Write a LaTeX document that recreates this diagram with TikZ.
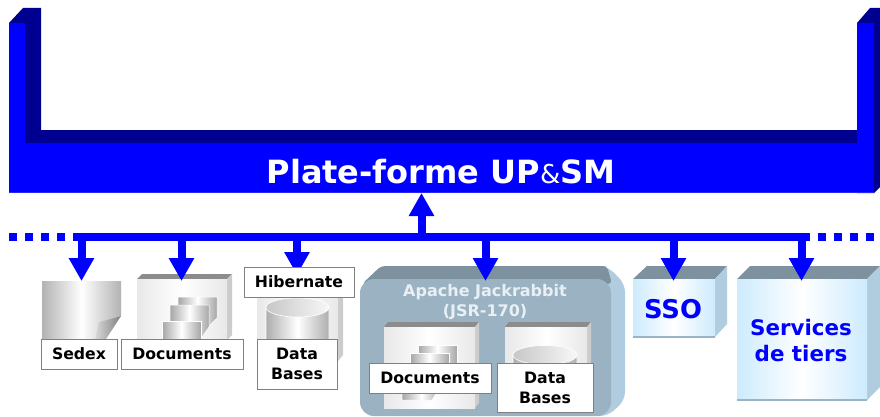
\documentclass[tikz,border=0pt]{standalone}
\usepackage{fontspec}
\setmainfont{DejaVu Sans}
\usetikzlibrary{arrows.meta}
\definecolor{navy}{RGB}{0,0,144}
\definecolor{topf}{RGB}{125,145,158}
\definecolor{sidef}{RGB}{176,205,224}
\definecolor{frontf}{RGB}{155,178,194}
\definecolor{skyf}{RGB}{205,235,253}
\begin{document}
\begin{tikzpicture}[x=1pt,y=-1pt,
  lbl/.style={draw=black!50,line width=1pt,fill=white,font=\bfseries\fontsize{15.7}{20}\selectfont,align=center,inner sep=0pt,text=black},
  barrow/.style={draw=blue,line width=8pt,-{Triangle[length=23pt,width=24pt,fill=blue]}},
  sil/.style={left color=black!30,right color=black!30,middle color=white,draw=none},
  pale/.style={left color=black!9,right color=black!9,middle color=white,draw=none},
  sky/.style={left color=skyf,right color=skyf,middle color=white,draw=none},
  cyl/.style={draw=white,line width=.6pt,left color=black!32,right color=black!32,middle color=white},
  lid/.style={draw=white,line width=.6pt,left color=black!22,right color=black!3},
  page/.style={draw=white,line width=.5pt,left color=black!35,right color=black!35,middle color=white}
]
\useasboundingbox (0,0) rectangle (880,417);
% platform
\fill[navy] (9,23) -- (23,8) -- (41,8) -- (41,130) -- (25,130) -- (25,143) -- (9,143) -- cycle;
\fill[navy] (857,23) -- (870,8) -- (880,8) -- (880,187) -- (874,193) -- (857,193) -- cycle;
\fill[blue] (9,23) rectangle (25,143);
\fill[blue] (857,23) rectangle (874,143);
\fill[blue] (9,143) rectangle (874,193);
\fill[navy] (25,130) rectangle (857,143);
\fill[blue!85!white] (9,192) rectangle (874,193);
\node[text=white,font=\bfseries\fontsize{32}{36}\selectfont] (title) at (441,172) {Plate-forme UP{\fontsize{26}{30}\selectfont\mdseries\&}SM};
% bus
\foreach \x in {9,25,41,57,818,834,850,866}{\fill[blue] (\x,233) rectangle (\x+8,241);}
\fill[blue] (73,233) rectangle (810,241);
% sedex
\path[sil] (42,281) -- (121,281) -- (121,316) -- (99,322) -- (95,339) -- (42,339) -- cycle;
\path[left color=black!15,right color=black!50] (121,316) -- (99,322) -- (95,339) -- (106,339) -- cycle;
% documents icon
\fill[black!45] (137,279) -- (142,274) -- (232,274) -- (227,279) -- cycle;
\fill[black!20] (227,279) -- (232,274) -- (232,335) -- (227,340) -- cycle;
\path[pale] (137,279) rectangle (227,345);
\path[page] (178,297) -- (217,297) -- (217,318) -- (203,332) -- (178,332) -- cycle;
\path[page] (170,305) -- (209,305) -- (209,327) -- (202,337) -- (170,337) -- cycle;
\path[page] (162,321) rectangle (201,345);
% db icon
\fill[black!20] (338,285) -- (343,285) -- (343,355) -- (338,361) -- cycle;
\path[pale] (257,285) rectangle (338,361);
\path[cyl] (266,307.5) arc[start angle=180,end angle=360,x radius=31.5,y radius=9.5] -- (329,345) -- (266,345) -- cycle;
\path[lid] (297.5,307.5) ellipse[x radius=31.5,y radius=9.5];
% jackrabbit
\fill[sidef,rounded corners=8pt] (600,266) -- (607,266) -- (625,284) -- (625,400) -- (608,416) -- (590,416) -- cycle;
\fill[topf,rounded corners=4pt] (362,284) -- (381,266) -- (607,266) -- (612,284) -- cycle;
\fill[frontf,rounded corners=14pt] (360,279) rectangle (611,416);
\node[text={rgb,255:red,232;green,240;blue,245},font=\bfseries\fontsize{16}{19.4}\selectfont,align=center] (jr) at (485,302) {Apache Jackrabbit\\(JSR-170)};
% inner doc
\fill[black!45] (384,327) -- (388,322) -- (479,322) -- (475,327) -- cycle;
\fill[black!20] (475,327) -- (479,322) -- (479,403) -- (475,408) -- cycle;
\path[pale] (384,327) rectangle (475,408);
\path[page] (418,345) rectangle (457,370);
\path[page] (410,353) rectangle (449,378);
\path[page] (402,385) -- (441,385) -- (432,400) -- (402,400) -- cycle;
% inner db
\fill[black!45] (505,327) -- (509,322) -- (591,322) -- (587,327) -- cycle;
\fill[black!20] (587,327) -- (591,322) -- (591,365) -- (587,370) -- cycle;
\path[pale] (505,327) rectangle (587,370);
\path[cyl] (513,355) arc[start angle=180,end angle=360,x radius=32,y radius=9.5] -- (577,370) -- (513,370) -- cycle;
\path[lid] (545,355) ellipse[x radius=32,y radius=9.5];
% SSO
\fill[topf] (633,279) -- (647,266) -- (727,266) -- (715,279) -- cycle;
\fill[sidef] (715,279) -- (727,266) -- (727,324) -- (715,337) -- cycle;
\path[sky] (633,279) rectangle (715,336);
\fill[black!12!sidef] (633,336) rectangle (715,338);
\node[text=blue,font=\bfseries\fontsize{25.8}{30}\selectfont] (sso) at (673,309) {SSO};
% services
\fill[topf] (737,279) -- (750,266) -- (880,266) -- (867,279) -- cycle;
\fill[sidef] (867,279) -- (880,266) -- (880,387) -- (867,400) -- cycle;
\path[sky] (737,279) rectangle (867,399);
\fill[black!12!sidef] (737,399) rectangle (867,401);
\node[text=blue,font=\bfseries\fontsize{21.4}{26}\selectfont,align=center] (serv) at (801,341) {Services\\de tiers};
% connectors
\foreach \n/\x/\t in {sed/81.5/281,doc/181.5/281,hib/297/275,jac/485.5/281,ssoa/673.5/281,ser/801.5/281}{
  \coordinate (b\n) at (\x,237);
  \coordinate (a\n) at (\x,\t);
  \draw[barrow] (b\n) -- (a\n);}
\coordinate (bup) at (421.5,237);
\coordinate (aup) at (421.5,193);
\draw[barrow] (bup) -- (aup);
% labels
\node[lbl,minimum width=76pt,minimum height=30pt] (sedex) at (79,354) {Sedex};
\node[lbl,minimum width=122pt,minimum height=30pt] (docs) at (182,354) {Documents};
\node[lbl,minimum width=110pt,minimum height=30pt] (hibn) at (299,282) {Hibernate};
\node[lbl,minimum width=80pt,minimum height=50pt] (db) at (297,364) {Data\\Bases};
\node[lbl,minimum width=122pt,minimum height=30pt] (idocs) at (430,378) {Documents};
\node[lbl,minimum width=96pt,minimum height=49pt] (idb) at (545,387.5) {Data\\Bases};
\end{tikzpicture}
\end{document}
